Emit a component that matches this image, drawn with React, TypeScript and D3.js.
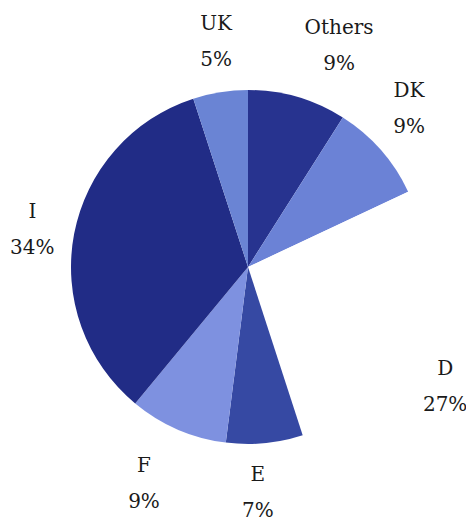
import React from "react";
import * as d3 from "d3";

const categories = ["Others", "DK", "D", "E", "F", "I", "UK"];
const shares = [9, 9, 27, 7, 9, 34, 5];
const colors = ["#27338f", "#6b82d6", "#ffffff", "#3649a3", "#7e91e0", "#212c86", "#6a84d4"];
// label layout: polar position (degrees clockwise from top, radius) of each label block
const labelAngles = [22.3, 45.2, 121, 177.5, 205.8, 280, 352];
const labelRadii = [240, 227, 230, 225, 239, 219, 229];

const W = 466;
const H = 524;
const CX = 248;
const CY = 267;
const R = 177;
const FONT = "DejaVu Serif";

export default function App() {
  const data = categories.map((c, i) => ({ name: c, value: shares[i], color: colors[i] }));
  const pie = d3
    .pie<{ name: string; value: number; color: string }>()
    .sort(null)
    .value((d) => d.value)
    .startAngle(0)
    .endAngle(2 * Math.PI);
  const arcs = pie(data);
  const arc = d3.arc<d3.PieArcDatum<any>>().innerRadius(0).outerRadius(R);
  const toRad = d3.scaleLinear().domain([0, 360]).range([0, 2 * Math.PI]);

  return (
    <svg
      width={W}
      height={H}
      style={{ position: "absolute", left: 0, top: 0, background: "#fff" }}
    >
      <rect width={W} height={H} fill="#ffffff" />
      <g transform={`translate(${CX},${CY})`}>
        {arcs.map((a, i) => (
          <path key={i} d={arc(a) || ""} fill={a.data.color} />
        ))}
        {data.map((d, i) => {
          const ang = toRad(labelAngles[i]);
          const r = labelRadii[i];
          const x = r * Math.sin(ang);
          const y = -r * Math.cos(ang);
          const st = { fontFamily: FONT, fontSize: "20px", fill: "#1a1a1a" };
          return (
            <g key={d.name} textAnchor="middle">
              <text x={x} y={y - 18 + 7.5} style={st}>{d.name}</text>
              <text x={x} y={y + 18 + 7.5} style={st}>{d.value + "%"}</text>
            </g>
          );
        })}
      </g>
    </svg>
  );
}
